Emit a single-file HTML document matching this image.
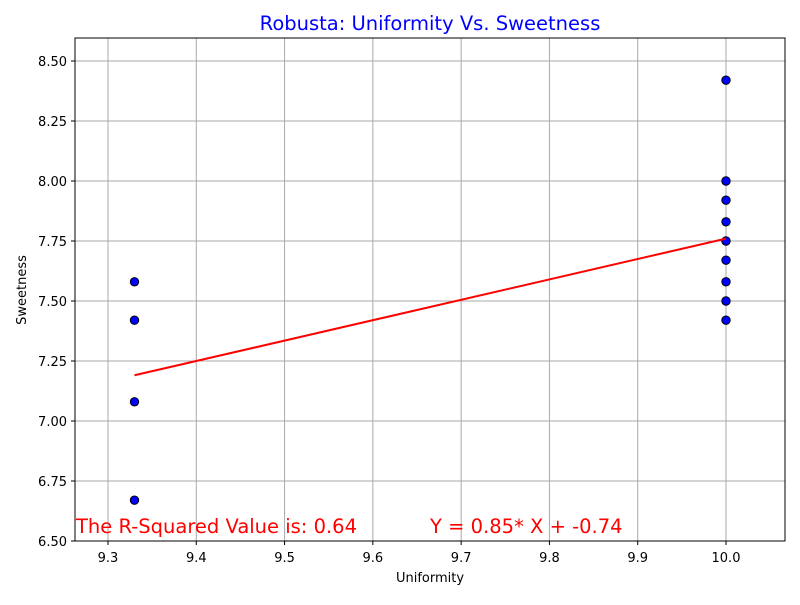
<!DOCTYPE html>
<html><head><meta charset="utf-8"><style>
body{margin:0;background:#fff;font-family:"Liberation Sans","DejaVu Sans",sans-serif}
svg text{font-family:"DejaVu Sans","Liberation Sans",sans-serif}
</style></head><body>
<svg id="chart" width="800" height="600" xmlns="http://www.w3.org/2000/svg">
<rect width="800" height="600" fill="#fff"/>
<text x="430" y="30" text-anchor="middle" font-size="19.5" fill="blue">Robusta: Uniformity Vs. Sweetness</text>
<g id="grid"></g>
<g id="marks"></g>
<rect x="75" y="38" width="710" height="503" fill="none" stroke="#000" stroke-width="1"/>
<text x="430" y="582" text-anchor="middle" font-size="13">Uniformity</text>
<text transform="translate(26,290) rotate(-90)" text-anchor="middle" font-size="13">Sweetness</text>
<text x="76" y="533" font-size="19.5" fill="red">The R-Squared Value is: 0.64</text>
<text x="430" y="533" font-size="19.5" fill="red">Y = 0.85* X + -0.74</text>
</svg>
<script>
const xVals=[9.33,9.33,9.33,9.33,10,10,10,10,10,10,10,10,10];
const yVals=[7.58,7.42,7.08,6.67,8.42,8.00,7.92,7.83,7.75,7.67,7.58,7.50,7.42];
const xTicks=[9.3,9.4,9.5,9.6,9.7,9.8,9.9,10.0];
const yTicks=[6.50,6.75,7.00,7.25,7.50,7.75,8.00,8.25,8.50];
const slope=0.85, intercept=-0.74;
const NS="http://www.w3.org/2000/svg";
const X=v=>108+(v-9.3)*(726-108)/0.7;
const Y=v=>541-(v-6.5)*(541-61)/2.0;
function mk(t,a,p){const e=document.createElementNS(NS,t);for(const k in a)e.setAttribute(k,a[k]);p.appendChild(e);return e;}
const g=document.getElementById('grid'),m=document.getElementById('marks');
xTicks.forEach(t=>{const x=X(t);
 const l=mk('line',{x1:x,x2:x,y1:38,y2:541,stroke:'#aaaaaa','stroke-width':1},g);
 
 mk('line',{x1:x,x2:x,y1:541,y2:545,stroke:'#000'},g);
 const tx=mk('text',{x:x,y:562,'text-anchor':'middle','font-size':13},g);tx.textContent=t.toFixed(1);
 });
yTicks.forEach(t=>{const y=Y(t);
 const l=mk('line',{x1:75,x2:785,y1:y,y2:y,stroke:'#aaaaaa','stroke-width':1},g);
 
 mk('line',{x1:71,x2:75,y1:y,y2:y,stroke:'#000'},g);
 const tx=mk('text',{x:67,y:y+5,'text-anchor':'end','font-size':13},g);tx.textContent=t.toFixed(2);
 });
xVals.forEach((v,i)=>{const c=mk('circle',{cx:X(v),cy:Y(yVals[i]),r:4.2,fill:'#0000ff',stroke:'#000','stroke-width':1},m);
 });
const xmin=Math.min(...xVals),xmax=Math.max(...xVals);
const ln=mk('line',{x1:X(xmin),y1:Y(slope*xmin+intercept),x2:X(xmax),y2:Y(slope*xmax+intercept),stroke:'red','stroke-width':2},m);

</script>
</body></html>
